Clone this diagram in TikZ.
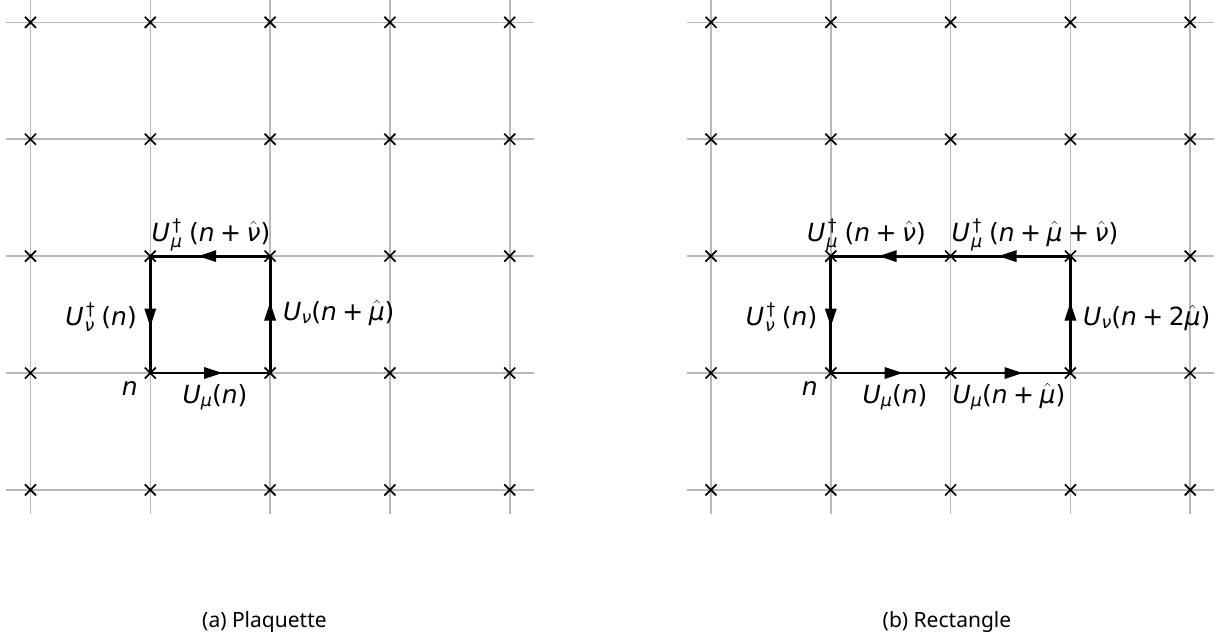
\documentclass[tikz,border=0pt]{standalone}
\usepackage{amsmath}
\usepackage{fontspec}
\setmainfont{Noto Sans}
\newfontfamily\dvs{DejaVu Sans}
\usetikzlibrary{decorations.markings}
\newcommand{\ssz}{\fontsize{17.5}{21}\selectfont}
\newcommand{\oi}[1]{{\itshape #1}}
\newcommand{\Us}[1]{\oi{U}\raisebox{-3.7pt}{\ssz\itshape #1}}
\newcommand{\Ud}[1]{\oi{U}\hspace{1pt}\rlap{\hspace{1.5pt}\raisebox{9.5pt}{\ssz †}}\raisebox{-6pt}{\ssz\itshape #1}\hspace{7pt}}
\newcommand{\pl}{\hspace{5.5pt}+\hspace{5.5pt}}
\newcommand{\hatx}[1]{$\hat{\text{\itshape #1}}$}
\tikzset{
  gridline/.style={draw=black!28, line width=1.6},
  crossmark/.style={draw=black, line width=1.7},
  link/.style={draw=black, line width=2.8, postaction={decorate},
    decoration={markings, mark=at position 0.5 with {\fill[black] (-6,-6) -- (12,0) -- (-6,6) -- cycle;}}},
  lab/.style={inner sep=0pt, font=\dvs\fontsize{25}{30}\selectfont},
  caption/.style={inner sep=0pt, font=\fontsize{21}{25}\selectfont},
}
\begin{document}
\begin{tikzpicture}[x=1pt, y=-1pt]
\useasboundingbox (0,0) rectangle (1229,643);
% lattice coordinates
\foreach \i in {0,...,4}{
  \foreach \j in {0,...,4}{
    \coordinate (a-\i-\j) at ({30.5+119.8*\i},{22.3+116.9*\j});
    \coordinate (b-\i-\j) at ({711+119.8*\i},{22.3+116.9*\j});
  }
}
% grid lines
\foreach \g in {a,b}{
  \foreach \k in {0,...,4}{
    \draw[gridline] ([xshift=-24.5pt]\g-0-\k) -- ([xshift=24pt]\g-4-\k);
    \draw[gridline] ([yshift=24pt]\g-\k-0) -- ([yshift=-24pt]\g-\k-4);
  }
}
% loops
\draw[link] (a-1-3) -- (a-2-3);
\draw[link] (a-2-3) -- (a-2-2);
\draw[link] (a-2-2) -- (a-1-2);
\draw[link] (a-1-2) -- (a-1-3);
\draw[link] (b-1-3) -- (b-2-3);
\draw[link] (b-2-3) -- (b-3-3);
\draw[link] (b-3-3) -- (b-3-2);
\draw[link] (b-3-2) -- (b-2-2);
\draw[link] (b-2-2) -- (b-1-2);
\draw[link] (b-1-2) -- (b-1-3);
% crosses
\foreach \g in {a,b}{
  \foreach \i in {0,...,4}{
    \foreach \j in {0,...,4}{
      \draw[crossmark] (\g-\i-\j) +(-5.5,-5.5) -- +(5.5,5.5) +(-5.5,5.5) -- +(5.5,-5.5);
    }
  }
}
% labels, plaquette
\node[lab, anchor=base] (la-top) at (211,241) {\Ud{μ}(\oi{n}\pl\hatx{ν})};
\node[lab, anchor=base] (la-bot) at (215,403) {\Us{μ}(\oi{n})};
\node[lab, anchor=base east] (la-n) at (138,395) {\oi{n}};
\node[lab, anchor=base east] (la-left) at (137,325) {\Ud{ν}(\oi{n})};
\node[lab, anchor=base west] (la-right) at (283,320) {\Us{ν}(\oi{n}\pl\hatx{μ})};
% labels, rectangle
\node[lab, anchor=base] (lb-top1) at (866.5,241) {\Ud{μ}(\oi{n}\pl\hatx{ν})};
\node[lab, anchor=base west] (lb-top2) at (951.5,241) {\Ud{μ}(\oi{n}\pl\hatx{μ}\pl\hatx{ν})};
\node[lab, anchor=base] (lb-bot1) at (895,403) {\Us{μ}(\oi{n})};
\node[lab, anchor=base] (lb-bot2) at (1009,403) {\Us{μ}(\oi{n}\pl\hatx{μ})};
\node[lab, anchor=base east] (lb-n) at (818,395) {\oi{n}};
\node[lab, anchor=base east] (lb-left) at (817.5,325) {\Ud{ν}(\oi{n})};
\node[lab, anchor=base west] (lb-right) at (1083,325) {\Us{ν}(\oi{n}\pl 2\hatx{μ})};
% captions
\node[caption, anchor=base west] (cap-a) at (202,627) {(a) Plaquette};
\node[caption, anchor=base west] (cap-b) at (882.5,627) {(b) Rectangle};
\end{tikzpicture}
\end{document}
